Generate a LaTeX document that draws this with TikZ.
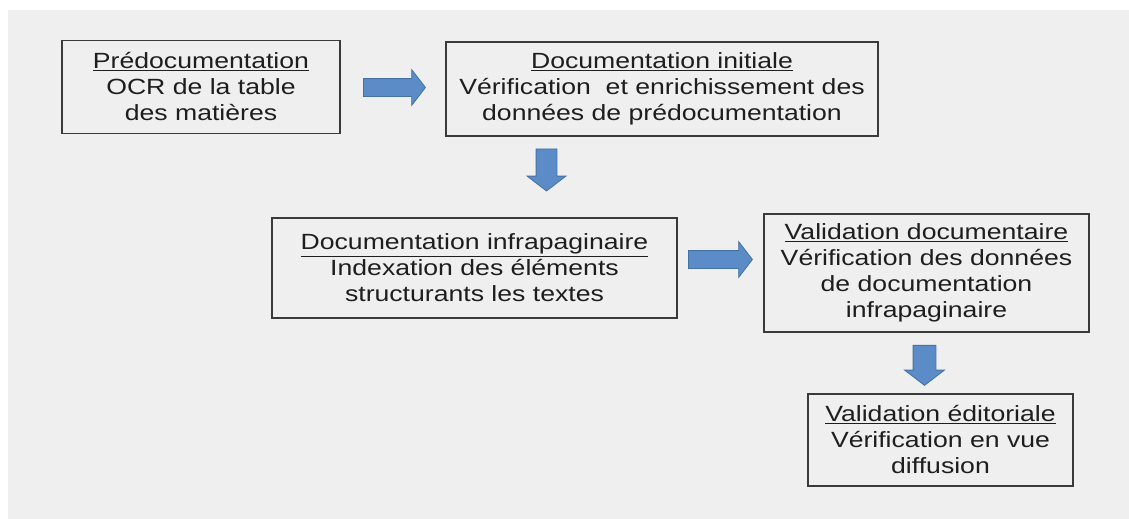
\documentclass[tikz,border=0pt]{standalone}
\usepackage{fontspec}
\setmainfont{Liberation Sans}[FakeStretch=1.21]
\usetikzlibrary{shapes.arrows}
\definecolor{fond}{HTML}{EFEFEF}
\definecolor{trait}{HTML}{3A3A3A}
\definecolor{encre}{HTML}{1E1E1E}
\definecolor{bleu}{HTML}{5B8CC8}
\definecolor{bleufonce}{HTML}{4472A4}
\tikzset{
  etape/.style={draw=trait, line width=1.6pt, fill=fond, align=center,
    text=encre, font=\fontsize{22}{26}\selectfont, inner sep=0pt},
  fleche/.style={single arrow, draw=bleufonce, fill=bleu, line width=0.8pt,
    inner sep=8.5pt, single arrow head extend=9pt,
    single arrow tip angle=105},
}
\begin{document}
\begin{tikzpicture}
      [x=1pt, y=-1pt]
      \useasboundingbox (0, 0) rectangle (1129, 519);
      \fill[fond] (8, 10) rectangle (1129, 519);
      % etapes
      \node[etape, minimum width=278pt, minimum height=93pt](1) at (201, 87)
        {\underline{Prédocumentation}\\OCR de la table\\des matières};
      \node[etape, minimum width=432pt, minimum height=94pt](2) at (662, 89)
        {\underline{Documentation initiale}\\Vérification\ \ et enrichissement des\\données de prédocumentation};
      \node[etape, minimum width=405pt, minimum height=100pt](3) at (474.5, 268)
        {\underline{Documentation infrapaginaire}\\Indexation des éléments\\structurants les textes};
      \node[etape, minimum width=325pt, minimum height=118pt](4) at (926.5, 273)
        {\underline{Validation documentaire}\\Vérification des données\\de documentation\\infrapaginaire};
      \node[etape, minimum width=265pt, minimum height=92pt](5) at (940.5, 440)
        {\underline{Validation éditoriale}\\Vérification en vue\\diffusion};
      % fleches
      \node[fleche, minimum height=62pt](12) at (391, 87.5) {};
      \node[fleche, minimum height=42pt, inner sep=10pt, shape border rotate=270](23) at (546.5, 166) {};
      \node[fleche, minimum height=64pt](34) at (717, 259.5) {};
      \node[fleche, minimum height=40pt, inner sep=11pt, single arrow head extend=8.5pt,
        shape border rotate=270](45) at (924.5, 361) {};
\end{tikzpicture}
\end{document}
